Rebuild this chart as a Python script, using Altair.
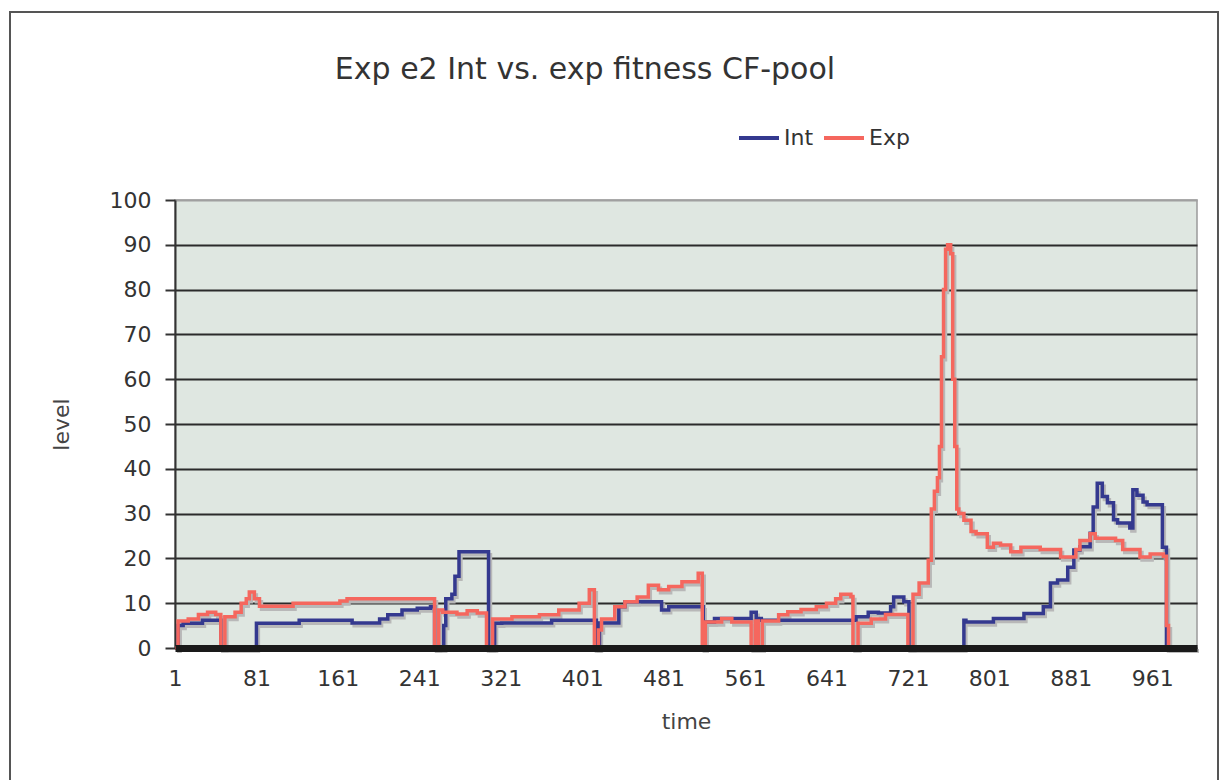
import altair as alt
import pandas as pd

# ---- data (breakpoints of a step series) ----
int_t = [1, 4, 9, 28, 46, 81, 123, 175, 202, 210, 224, 239, 252, 256, 265, 267, 273, 276, 280,
         309, 315, 322, 371, 415, 418, 437, 443, 479, 486, 520, 531, 567, 572, 577, 670, 682,
         692, 704, 707, 717, 722, 776, 778, 805, 835, 854, 861, 868, 878, 884, 890, 900, 903,
         907, 912, 917, 923, 927, 939, 942, 946, 952, 956, 971, 975, 1005]
int_v = [0, 5, 5.5, 6.2, 0, 5.5, 6.2, 5.6, 6.5, 7.4, 8.5, 8.9, 9.2, 0, 5, 11, 12, 16, 21.5,
         0, 5.5, 5.6, 6.2, 0, 5.6, 9.2, 10.3, 8.5, 9.2, 5.8, 6.6, 8, 6.6, 6.2, 7, 8,
         7.8, 9.2, 11.4, 10.3, 0, 6.2, 5.8, 6.6, 7.7, 9.2, 14.5, 15.2, 18, 21.9, 22.6, 25.6, 31.5,
         36.8, 33.8, 32.4, 28.6, 27.9, 26.8, 35.3, 34.1, 32.6, 32, 22.5, 0, 0]

exp_t = [1, 4, 14, 24, 33, 41, 46, 50, 60, 66, 71, 74, 79, 84, 117, 163, 170, 256, 260, 264,
         278, 288, 298, 307, 313, 332, 359, 378, 398, 408, 413, 417, 420, 433, 443, 455, 466,
         476, 486, 499, 515, 519, 522, 538, 548, 567, 571, 574, 578, 594, 603, 616, 631, 641,
         650, 655, 665, 667, 672, 685, 699, 721, 726, 732, 741, 744, 747, 750, 752, 754, 756,
         758, 760, 763, 765, 767, 769, 771, 776, 783, 788, 799, 805, 812, 822, 832, 851, 871,
         886, 890, 900, 905, 925, 932, 949, 959, 972, 975, 977, 1005]
exp_v = [0, 6, 6.5, 7.5, 8, 7.5, 0, 7, 8, 10, 11, 12.5, 11, 9.3, 10, 10.5, 11, 0, 8.5, 8,
         7.6, 8.3, 7.8, 0, 6.5, 7, 7.4, 8.5, 10, 13, 0, 4, 6.5, 9.2, 10.3, 11.4, 14,
         13, 13.7, 14.8, 16.7, 0, 5.8, 6.6, 5.8, 0, 6, 0, 6, 7.4, 8.1, 8.6, 9.2, 10,
         11, 12, 11.5, 0, 5.5, 6.5, 7.5, 0, 12, 14.5, 19.6, 31, 35, 38, 45, 65, 80,
         89, 90, 88, 60, 45, 31, 30, 28.5, 26, 25.5, 22.5, 23.4, 23, 21.5, 22.5, 22, 20.3,
         22, 24, 25.5, 24.5, 24, 22, 20.3, 21, 20.5, 5, 0, 0]

series_names = ["Int", "Exp"]
series_colors = ["#34398f", "#f5675e"]
x_ticks = [1, 81, 161, 241, 321, 401, 481, 561, 641, 721, 801, 881, 961]
y_ticks = [0, 10, 20, 30, 40, 50, 60, 70, 80, 90, 100]
title_text = "Exp e2 Int vs. exp fitness CF-pool"

df = pd.concat([
    pd.DataFrame({"series": "Int", "time": int_t, "level": int_v}),
    pd.DataFrame({"series": "Exp", "time": exp_t, "level": exp_v}),
], ignore_index=True)

FONT = "DejaVu Sans"
W, H = 1022, 448

x_enc = alt.X("time:Q", scale=alt.Scale(domain=[1, 1005], nice=False, zero=False),
              axis=alt.Axis(values=x_ticks, title="time", grid=False, ticks=False, tickSize=0,
                            labelFontSize=22, labelFont=FONT, labelColor="#333333",
                            labelPadding=20, labelFlush=False, zindex=1,
                            domainColor="#1a1a1a", domainWidth=7,
                            titleFontSize=22, titleFont=FONT, titleFontWeight="normal",
                            titleColor="#444444", titlePadding=22))
y_enc = alt.Y("level:Q", scale=alt.Scale(domain=[0, 100], nice=False),
              axis=alt.Axis(values=y_ticks, title="level",
                            grid=True, gridWidth=2,
                            gridColor={"condition": {"test": "datum.value == 100", "value": "#a0a0a0"},
                                       "value": "#2b2b2b"},
                            tickSize=10, tickWidth=2, tickColor="#333333",
                            labelFontSize=22, labelFont=FONT, labelColor="#333333",
                            labelPadding=14,
                            domainColor="#333333", domainWidth=2,
                            titleFontSize=22, titleFont=FONT, titleFontWeight="normal",
                            titleColor="#444444", titlePadding=36))

color_scale = alt.Scale(domain=series_names, range=series_colors)
legend = alt.Legend(title=None, orient="none", legendX=562, legendY=-84, direction="horizontal",
                    symbolType="stroke", symbolStrokeWidth=4, symbolSize=1600,
                    labelFontSize=22, labelFont=FONT, labelColor="#333333",
                    labelOffset=3, columnPadding=2)

base = alt.Chart(df)

shadow = base.mark_line(interpolate="step-after", color="#b8b8b8", strokeWidth=3.4,
                        xOffset=2, yOffset=3).encode(x=x_enc, y=y_enc, detail="series:N")

int_line = base.transform_filter(alt.datum.series == "Int").mark_line(
    interpolate="step-after", strokeWidth=3.5).encode(
    x=x_enc, y=y_enc, color=alt.Color("series:N", scale=color_scale, legend=legend))
exp_line = base.transform_filter(alt.datum.series == "Exp").mark_line(
    interpolate="step-after", strokeWidth=3.5).encode(
    x=x_enc, y=y_enc, color=alt.Color("series:N", scale=color_scale, legend=legend))

one = pd.DataFrame({"t": [title_text]})
title = alt.Chart(one).mark_text(font=FONT, fontSize=30, color="#333333", align="center",
                                 baseline="middle", clip=False).encode(
    text="t:N", x=alt.value(410), y=alt.value(-130))
frame = alt.Chart(one).mark_rect(filled=False, stroke="#555555", strokeWidth=2, clip=False).encode(
    x=alt.value(-165), x2=alt.value(1043), y=alt.value(-188), y2=alt.value(590))

chart = alt.layer(shadow, int_line, exp_line, title, frame).properties(
    width=W, height=H,
    autosize=alt.AutoSizeParams(type="none"),
    padding={"left": 175, "top": 200, "right": 30, "bottom": 132},
    background="white",
).configure_view(fill="#dfe7e1", stroke="#9a9a9a", strokeWidth=1.5)

chart.save("out.html", embed_options={"renderer": "svg", "actions": False})
